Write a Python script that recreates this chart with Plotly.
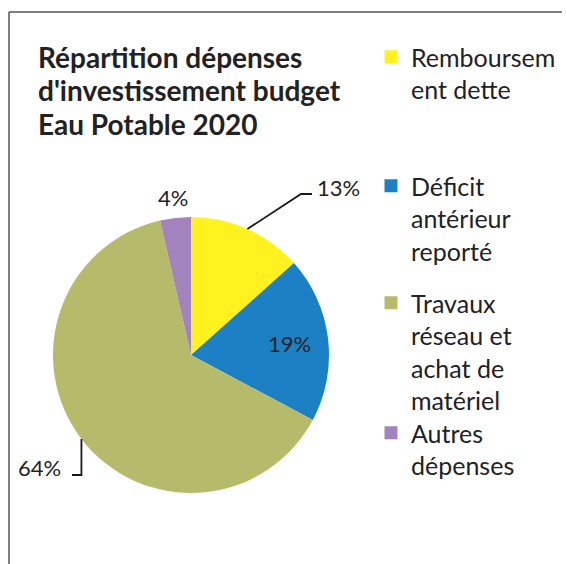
import math
import plotly.graph_objects as go

# Données du graphique
categories = ["Remboursement dette", "Déficit antérieur reporté",
              "Travaux réseau et achat de matériel", "Autres dépenses"]
legend_labels = ["Remboursem<br>ent dette", "Déficit<br>antérieur<br>reporté",
                 "Travaux<br>réseau et<br>achat de<br>matériel", "Autres<br>dépenses"]
valeurs = [13.4, 19.4, 63.6, 3.6]
couleurs = ["#FFF21E", "#1B80C4", "#B6BA6B", "#A283BE"]
titre = ["Répartition dépenses", "d'investissement budget", "Eau Potable 2020"]

W, H = 567, 564
FONT = "Lato"
TXT = "#222222"


def px(x):
    return x / W


def py(y):
    return 1 - y / H


# pie geometry (pixels)
cx, cy, r = 191, 355, 138

fig = go.Figure()
fig.add_trace(go.Pie(
    labels=categories, values=valeurs, sort=False, direction="clockwise",
    rotation=0, marker=dict(colors=couleurs, line=dict(width=0)),
    textinfo="none", hoverinfo="label+percent", showlegend=False,
    domain=dict(x=[px(cx - r), px(cx + r)], y=[py(cy + r), py(cy - r)]),
))

# legend entries, one legend each so the spacing can follow the original
legend_tops = [34, 163, 280, 410]
for i, (lab, col) in enumerate(zip(legend_labels, couleurs)):
    name = "legend" if i == 0 else f"legend{i + 1}"
    fig.add_trace(go.Scatter(
        x=[None], y=[None], mode="markers", name=lab, legend=name,
        marker=dict(symbol="square", size=13, color=col),
    ))
    fig.update_layout(**{name: dict(
        x=px(371), y=py(legend_tops[i]), xanchor="left", yanchor="top",
        valign="top", bgcolor="rgba(0,0,0,0)",
        font=dict(family=FONT, size=25, color=TXT),
    )})

# percent labels
total = sum(valeurs)
pcts = [v / total for v in valeurs]
mids = []
acc = 0
for p in pcts:
    mids.append((acc + p / 2) * 2 * math.pi)
    acc += p


def edge(a, k=1.0):
    return cx + r * k * math.sin(a), cy - r * k * math.cos(a)


textes = [f"{round(p * 100)}%" for p in pcts]
annotations = []
shapes = []

# 13 % : outside, upper right, with leader line
lx, ly = 315, 188
ex, ey = edge(mids[0])
annotations.append(dict(x=px(lx), y=py(ly), text=textes[0], xanchor="left"))
shapes.append(dict(type="path", path=f"M {px(ex)},{py(ey)} L {px(lx - 14)},{py(ly + 6)} L {px(lx - 3)},{py(ly + 6)}"))

# 19 % : inside
ix, iy = edge(mids[1], 0.72)
annotations.append(dict(x=px(ix), y=py(iy), text=textes[1], xanchor="center"))

# 64 % : outside, lower left, with leader line
lx, ly = 63, 467
ex, ey = edge(mids[2])
annotations.append(dict(x=px(lx), y=py(ly), text=textes[2], xanchor="right"))
shapes.append(dict(type="path", path=f"M {px(lx + 9)},{py(ly + 8)} L {px(ex)},{py(ly + 8)} L {px(ex)},{py(ey)}"))

# 4 % : outside, top
ox, oy = edge(mids[3], 1.15)
annotations.append(dict(x=px(ox), y=py(oy), text=textes[3], xanchor="center"))

for a in annotations:
    a.update(xref="paper", yref="paper", showarrow=False, yanchor="middle",
             font=dict(family=FONT, size=22, color=TXT))
for s in shapes:
    s.update(xref="paper", yref="paper", line=dict(color="#1a1a1a", width=1.8))

# title, one line per annotation
for i, ligne in enumerate(titre):
    annotations.append(dict(
        x=px(36), y=py(57 + 33.5 * i), xref="paper", yref="paper",
        xanchor="left", yanchor="middle", showarrow=False,
        text=f"<b>{ligne}</b>", font=dict(family=FONT, size=28, color=TXT),
    ))

# cadre (seuls les bords haut et gauche sont visibles)
shapes.append(dict(type="line", xref="paper", yref="paper", x0=px(9), x1=px(562),
                   y0=py(12), y1=py(12), line=dict(color="#555555", width=1.5)))
shapes.append(dict(type="line", xref="paper", yref="paper", x0=px(9), x1=px(9),
                   y0=py(12), y1=0, line=dict(color="#555555", width=1.5)))

fig.update_layout(
    width=W, height=H, margin=dict(l=0, r=0, t=0, b=0),
    paper_bgcolor="white", plot_bgcolor="white",
    annotations=annotations, shapes=shapes,
    xaxis=dict(visible=False), yaxis=dict(visible=False),
)

fig.write_html("out.html", config={"displayModeBar": False},
               post_script="document.body.style.margin='0';")
